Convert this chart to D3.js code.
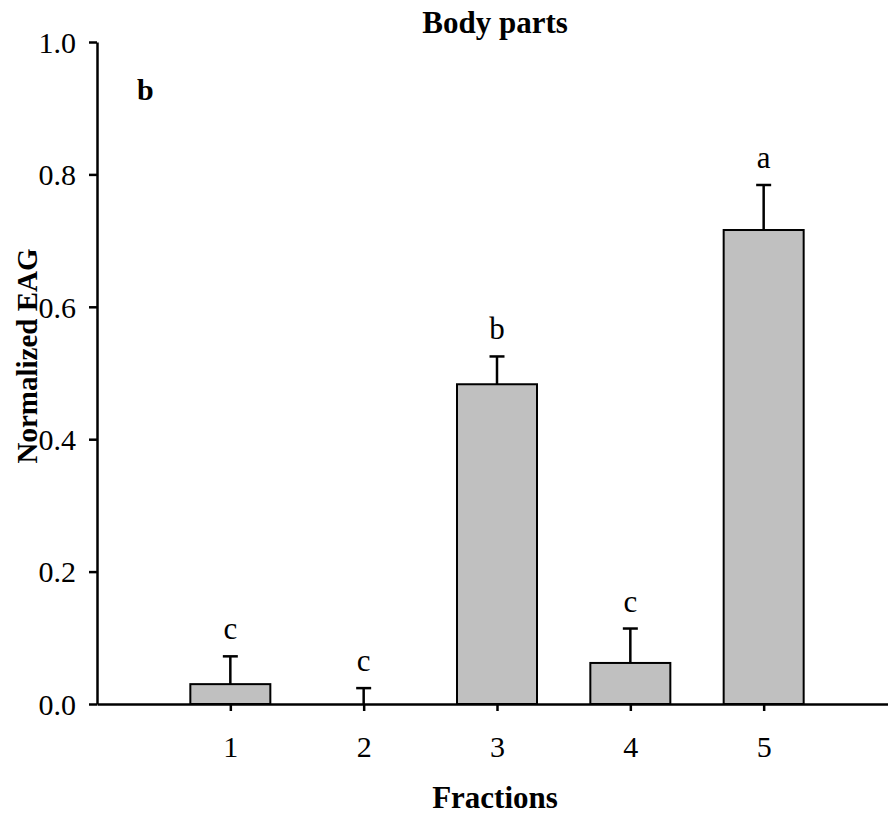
<!DOCTYPE html>
<html>
<head>
<meta charset="utf-8">
<script src="https://cdn.jsdelivr.net/npm/d3@7"></script>
<style>
  body { margin: 0; background: #fff; }
  svg { display: block; font-family: "Liberation Serif", "Times New Roman", serif; }
</style>
</head>
<body>
<div class="chart"></div>
<script>
// data
const fractions = [1, 2, 3, 4, 5];
const means = [0.030, 0.0, 0.483, 0.062, 0.716];
const errors = [0.042, 0.024, 0.042, 0.052, 0.068];
const letters = ["c", "c", "b", "c", "a"];
const yTicks = [0, 0.2, 0.4, 0.6, 0.8, 1.0];

const WIDTH = 888;
const HEIGHT = 817;
const BAR_WIDTH = 0.6; // in fraction units

const svg = d3.select(".chart")
  .append("svg")
  .attr("width", WIDTH)
  .attr("height", HEIGHT);

const xScale = d3.scaleLinear().domain([0, 6]).range([97, 897]);
const yScale = d3.scaleLinear().domain([0, 1]).range([704, 42]);

const data = fractions.map((f, i) => ({
  fraction: f,
  mean: means[i],
  err: errors[i],
  letter: letters[i]
}));

// bars
svg.append("g")
  .selectAll("rect")
  .data(data.filter(d => d.mean > 0))
  .join("rect")
  .attr("x", d => xScale(d.fraction - BAR_WIDTH / 2))
  .attr("width", xScale(BAR_WIDTH) - xScale(0))
  .attr("y", d => yScale(d.mean))
  .attr("height", d => yScale(0) - yScale(d.mean))
  .attr("fill", "#c0c0c0")
  .attr("stroke", "#000")
  .attr("stroke-width", 2);

// error bars (upper only)
const errG = svg.append("g").attr("stroke", "#000").attr("stroke-width", 2.5);
errG.selectAll(".stem")
  .data(data)
  .join("line")
  .attr("class", "stem")
  .attr("x1", d => xScale(d.fraction))
  .attr("x2", d => xScale(d.fraction))
  .attr("y1", d => yScale(d.mean))
  .attr("y2", d => yScale(d.mean + d.err));
errG.selectAll(".cap")
  .data(data)
  .join("line")
  .attr("class", "cap")
  .attr("x1", d => xScale(d.fraction) - 7.5)
  .attr("x2", d => xScale(d.fraction) + 7.5)
  .attr("y1", d => yScale(d.mean + d.err))
  .attr("y2", d => yScale(d.mean + d.err));

// significance letters
svg.append("g")
  .selectAll("text")
  .data(data)
  .join("text")
  .attr("x", d => xScale(d.fraction))
  .attr("y", d => yScale(d.mean + d.err) - 17)
  .attr("text-anchor", "middle")
  .attr("font-size", 31)
  .text(d => d.letter);

// y axis
const yAxis = svg.append("g")
  .attr("transform", `translate(${xScale(0)}, 0)`)
  .call(d3.axisLeft(yScale).tickValues(yTicks).tickFormat(d3.format(".1f"))
    .tickSize(8).tickSizeOuter(0).tickPadding(13));

// x axis
const xAxis = svg.append("g")
  .attr("transform", `translate(0, ${yScale(0)})`)
  .call(d3.axisBottom(xScale).tickValues(fractions).tickFormat(d3.format("d"))
    .tickSize(7).tickSizeOuter(0).tickPadding(25));

[yAxis, xAxis].forEach(ax => {
  ax.attr("font-family", null).attr("font-size", 30);
  ax.selectAll("path, line").attr("stroke", "#000").attr("stroke-width", 2.5);
  ax.selectAll("text").attr("fill", "#000");
});
yAxis.selectAll("text").attr("dy", "0.34em");

// titles
svg.append("text")
  .attr("x", 495).attr("y", 33)
  .attr("text-anchor", "middle")
  .attr("font-size", 31).attr("font-weight", "bold")
  .text("Body parts");

svg.append("text")
  .attr("x", 495).attr("y", 808)
  .attr("text-anchor", "middle")
  .attr("font-size", 31).attr("font-weight", "bold")
  .text("Fractions");

svg.append("text")
  .attr("transform", "translate(37, 356) rotate(-90)")
  .attr("text-anchor", "middle")
  .attr("font-size", 29).attr("font-weight", "bold")
  .text("Normalized EAG");

svg.append("text")
  .attr("x", 137).attr("y", 100)
  .attr("font-size", 30).attr("font-weight", "bold")
  .text("b");
</script>
</body>
</html>
